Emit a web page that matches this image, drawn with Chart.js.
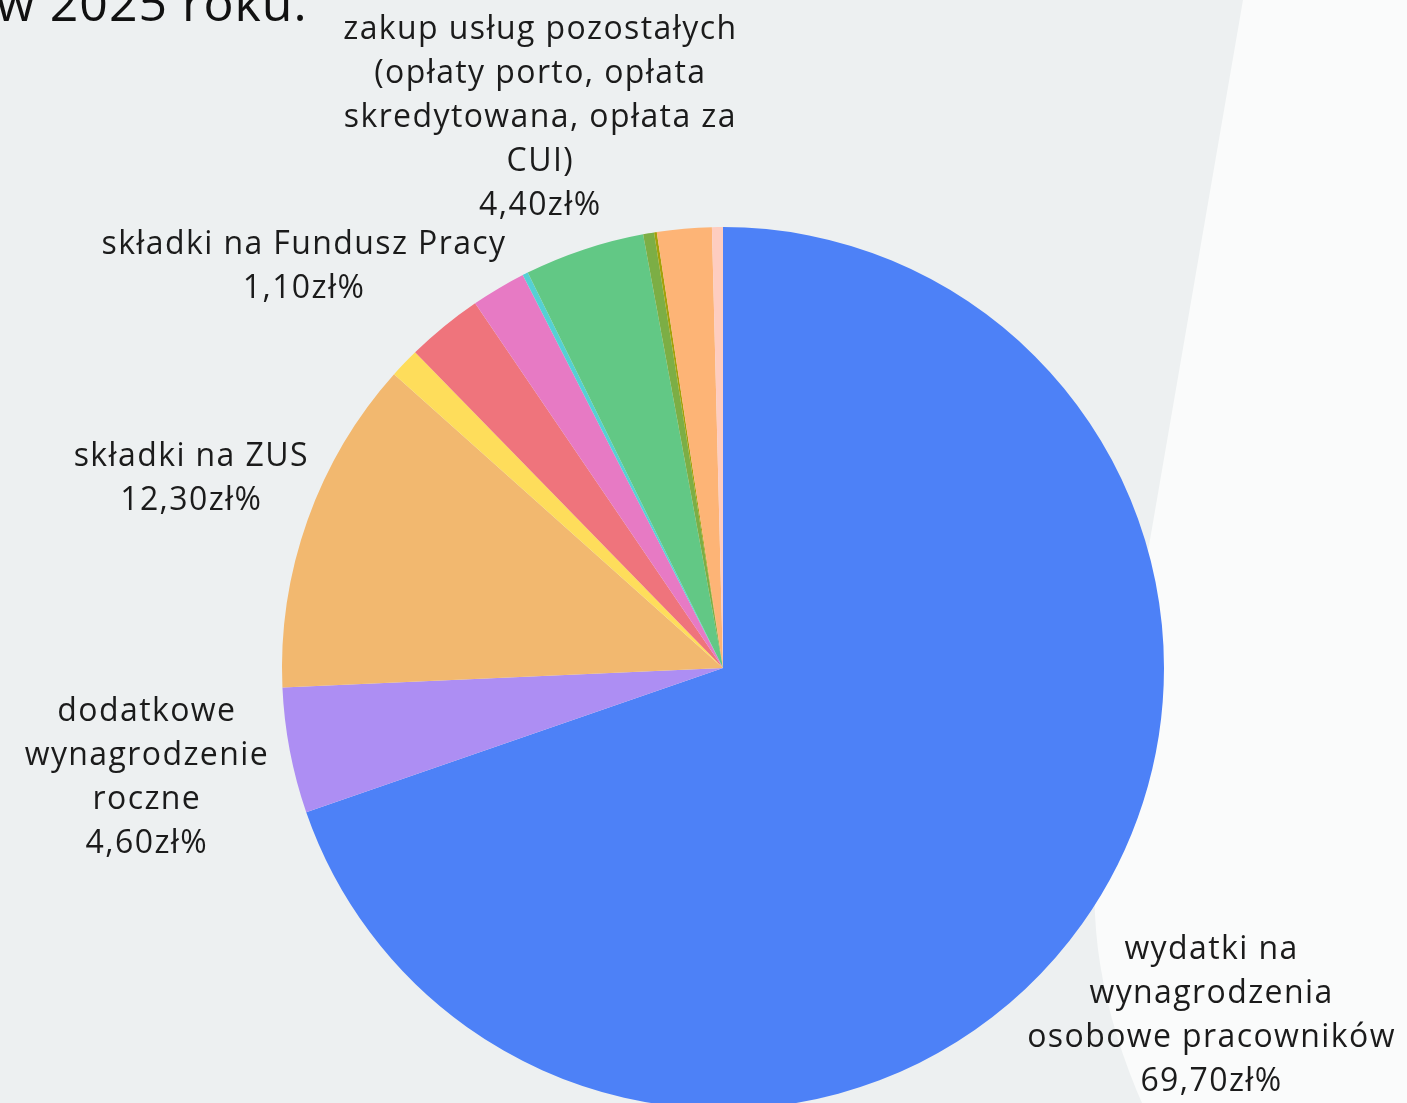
<!DOCTYPE html>
<html lang="pl">
<head>
<meta charset="utf-8">
<title>Struktura wydatków w 2025 roku</title>
<script src="https://cdn.jsdelivr.net/npm/chart.js@4.4.1/dist/chart.umd.min.js"></script>
<style>
  html, body { margin: 0; padding: 0; width: 1407px; height: 1103px; overflow: hidden; background: #edf0f1; }
  #expensesChart { position: absolute; left: 0; top: 0; }
  #title { position: absolute; left: -4px; top: -23px; font: 400 50px "Open Sans", sans-serif; letter-spacing: 1px; line-height: 1; color: #111; white-space: nowrap; }
</style>
</head>
<body>
<canvas id="expensesChart" width="1407" height="1200"></canvas>
<div id="title">w 2025 roku.</div>
<script>
// category names, already wrapped into lines the way they show on the chart
const categories = [
  ['wydatki na', 'wynagrodzenia', 'osobowe pracowników'],
  ['dodatkowe', 'wynagrodzenie', 'roczne'],
  ['składki na ZUS'],
  ['składki na Fundusz Pracy'],
  ['odpisy na zakładowy fundusz', 'świadczeń socjalnych'],
  ['zakup materiałów i wyposażenia'],
  ['wynagrodzenia bezosobowe'],
  ['zakup usług pozostałych', '(opłaty porto, opłata', 'skredytowana, opłata za', 'CUI)'],
  ['zakup usług remontowych'],
  ['podróże służbowe krajowe'],
  ['zakup energii'],
  ['wydatki osobowe niezaliczone', 'do wynagrodzeń']
];
const values = [69.7, 4.6, 12.3, 1.1, 2.8, 2.0, 0.2, 4.4, 0.4, 0.1, 2.0, 0.4];
const colors = ['#4d81f7', '#ad8ef3', '#f2b86f', '#fedd5b', '#ef747c', '#e77ac4',
                '#55d0d4', '#62c885', '#7cae45', '#a3a10a', '#fdb476', '#fecdc0'];
// only these slices carry a text label in the picture
const labelled = [0, 1, 2, 3, 7];

const formatValue = v => v.toFixed(2).replace('.', ',') + 'zł%';

// light backdrop shape on the right side
const backdrop = {
  id: 'backdrop',
  beforeDraw(chart) {
    const ctx = chart.ctx;
    ctx.save();
    ctx.fillStyle = '#fafbfb';
    ctx.beginPath();
    ctx.moveTo(1243, 0);
    ctx.lineTo(1100, 830);
    ctx.quadraticCurveTo(1078, 960, 1145, 1110);
    ctx.lineTo(1407, 1110);
    ctx.lineTo(1407, 0);
    ctx.closePath();
    ctx.fill();
    ctx.restore();
  }
};

// labels outside the pie along the middle angle of each slice
const sliceLabels = {
  id: 'sliceLabels',
  afterDatasetsDraw(chart, args, opts) {
    const ctx = chart.ctx;
    const meta = chart.getDatasetMeta(0);
    ctx.save();
    ctx.font = '32px "Open Sans", sans-serif';
    ctx.letterSpacing = '1.4px';
    ctx.fillStyle = '#1b1b1b';
    ctx.textAlign = 'center';
    ctx.textBaseline = 'middle';
    meta.data.forEach((arc, i) => {
      if (!labelled.includes(i)) return;
      const p = arc.getProps(['x', 'y', 'startAngle', 'endAngle', 'outerRadius'], true);
      const mid = (p.startAngle + p.endAngle) / 2;
      const r = p.outerRadius * (opts.radius[i] || 1.32);
      const cx = p.x + Math.cos(mid) * r;
      const cy = p.y + Math.sin(mid) * r;
      const lines = [...categories[i], formatValue(values[i])];
      const lh = 44;
      lines.forEach((t, k) => ctx.fillText(t, cx, cy + (k - (lines.length - 1) / 2) * lh));
    });
    ctx.restore();
  }
};

const ctx = document.getElementById('expensesChart').getContext('2d');
new Chart(ctx, {
  type: 'pie',
  data: {
    labels: categories.map(c => c.join(' ')),
    datasets: [{
      data: values,
      backgroundColor: colors,
      borderWidth: 0
    }]
  },
  options: {
    responsive: false,
    animation: false,
    layout: { padding: { left: 282, right: 243, top: 227, bottom: 91 } },
    plugins: {
      legend: { display: false },
      tooltip: { enabled: false },
      sliceLabels: { radius: { 0: 1.36, 1: 1.33, 2: 1.28, 3: 1.315, 7: 1.315 } }
    }
  },
  plugins: [backdrop, sliceLabels]
});
</script>
</body>
</html>
